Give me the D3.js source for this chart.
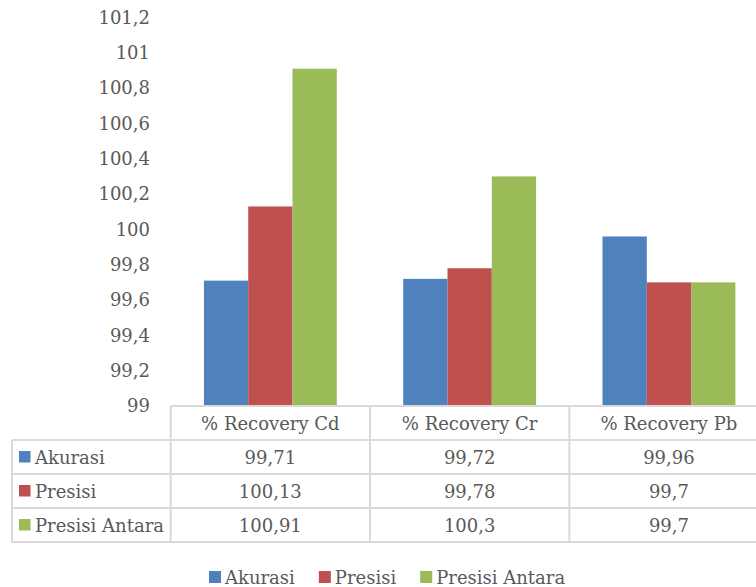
<!DOCTYPE html>
<html><head><meta charset="utf-8">
<script src="https://cdn.jsdelivr.net/npm/d3@7"></script>
<style>body{margin:0;background:#fff}svg{display:block}text{font-family:"DejaVu Serif",serif;fill:#595959}</style>
</head><body><svg id="c" width="756" height="587"></svg>
<script>
const categories = ["% Recovery Cd", "% Recovery Cr", "% Recovery Pb"];
const seriesNames = ["Akurasi", "Presisi", "Presisi Antara"];
const akurasi = [99.71, 99.72, 99.96];
const presisi = [100.13, 99.78, 99.7];
const presisiAntara = [100.91, 100.3, 99.7];
const yTicks = [99, 99.2, 99.4, 99.6, 99.8, 100, 100.2, 100.4, 100.6, 100.8, 101, 101.2];
const colors = ["#4F81BD", "#C0504D", "#9BBB59"];
const seriesValues = [akurasi, presisi, presisiAntara];

const svg = d3.select("#c");
const fs = 18;
const loc = d3.formatLocale({decimal: ",", thousands: ".", grouping: [3], currency: ["", ""]});
const fmt = loc.format("~g");

const plotLeft = 170.7, colW = 199.3;
const x0 = d3.scaleBand().domain(categories).range([plotLeft, plotLeft + colW * 3]);
const x1 = d3.scaleBand().domain(seriesNames).range([0, x0.bandwidth()]).paddingInner(0).paddingOuter(0.75);
const y = d3.scaleLinear().domain([99, 101.2]).range([406, 17.5]);

// bars
const g = svg.append("g");
categories.forEach((c, ci) => {
  seriesNames.forEach((s, si) => {
    const v = seriesValues[si][ci];
    g.append("rect")
      .attr("x", x0(c) + x1(s))
      .attr("width", x1.bandwidth())
      .attr("y", y(v))
      .attr("height", y(99) - y(v))
      .attr("fill", colors[si]);
  });
});

// y axis
const ya = svg.append("g").attr("transform", "translate(150,0)")
  .call(d3.axisLeft(y).tickValues(yTicks).tickFormat(fmt).tickSize(0).tickPadding(0));
ya.select(".domain").remove();
ya.selectAll("text").style("font-family", '"DejaVu Serif",serif').style("font-size", fs + "px").attr("fill", "#595959");

// data table
const headTop = y(99), rowH = 34;
const rows = d3.scaleBand().domain(seriesNames).range([headTop + rowH, headTop + rowH * 4]);
const tableLeft = 12;
const lc = "#d9d9d9", lw = 2;
const tg = svg.append("g");
const right = plotLeft + colW * 3;
tg.append("line").attr("x1", plotLeft).attr("x2", right).attr("y1", headTop).attr("y2", headTop);
[headTop + rowH, ...seriesNames.map(s => rows(s) + rows.bandwidth())].forEach(yy => {
  tg.append("line").attr("x1", tableLeft).attr("x2", right).attr("y1", yy).attr("y2", yy);
});
tg.append("line").attr("x1", tableLeft).attr("x2", tableLeft).attr("y1", headTop + rowH).attr("y2", headTop + rowH * 4);
categories.forEach(c => {
  tg.append("line").attr("x1", x0(c)).attr("x2", x0(c)).attr("y1", headTop).attr("y2", headTop + rowH * 4);
});
tg.append("line").attr("x1", right).attr("x2", right).attr("y1", headTop).attr("y2", headTop + rowH * 4);
tg.selectAll("line").attr("stroke", lc).attr("stroke-width", lw);

categories.forEach(c => {
  svg.append("text").attr("x", x0(c) + x0.bandwidth() / 2).attr("y", headTop + rowH / 2)
    .attr("text-anchor", "middle").attr("dominant-baseline", "central")
    .style("font-size", fs + "px").text(c);
});
seriesNames.forEach((s, si) => {
  const cy = rows(s) + rows.bandwidth() / 2;
  svg.append("rect").attr("x", 19).attr("y", cy - 6).attr("width", 11.5).attr("height", 11.5).attr("fill", colors[si]);
  svg.append("text").attr("x", 35).attr("y", cy).attr("dominant-baseline", "central")
    .style("font-size", fs + "px").text(s);
  categories.forEach((c, ci) => {
    svg.append("text").attr("x", x0(c) + x0.bandwidth() / 2).attr("y", cy)
      .attr("text-anchor", "middle").attr("dominant-baseline", "central")
      .style("font-size", fs + "px").text(fmt(seriesValues[si][ci]));
  });
});

const lg = svg.append("g");
let lx = 209;
const ly = 577;
seriesNames.forEach((s, si) => {
  lg.append("rect").attr("x", lx).attr("y", ly - 6).attr("width", 12).attr("height", 12).attr("fill", colors[si]);
  const t = lg.append("text").attr("x", lx + 16).attr("y", ly).attr("dominant-baseline", "central")
    .style("font-size", fs + "px").text(s);
  lx += 16 + t.node().getComputedTextLength() + 24;
});
</script></body></html>
